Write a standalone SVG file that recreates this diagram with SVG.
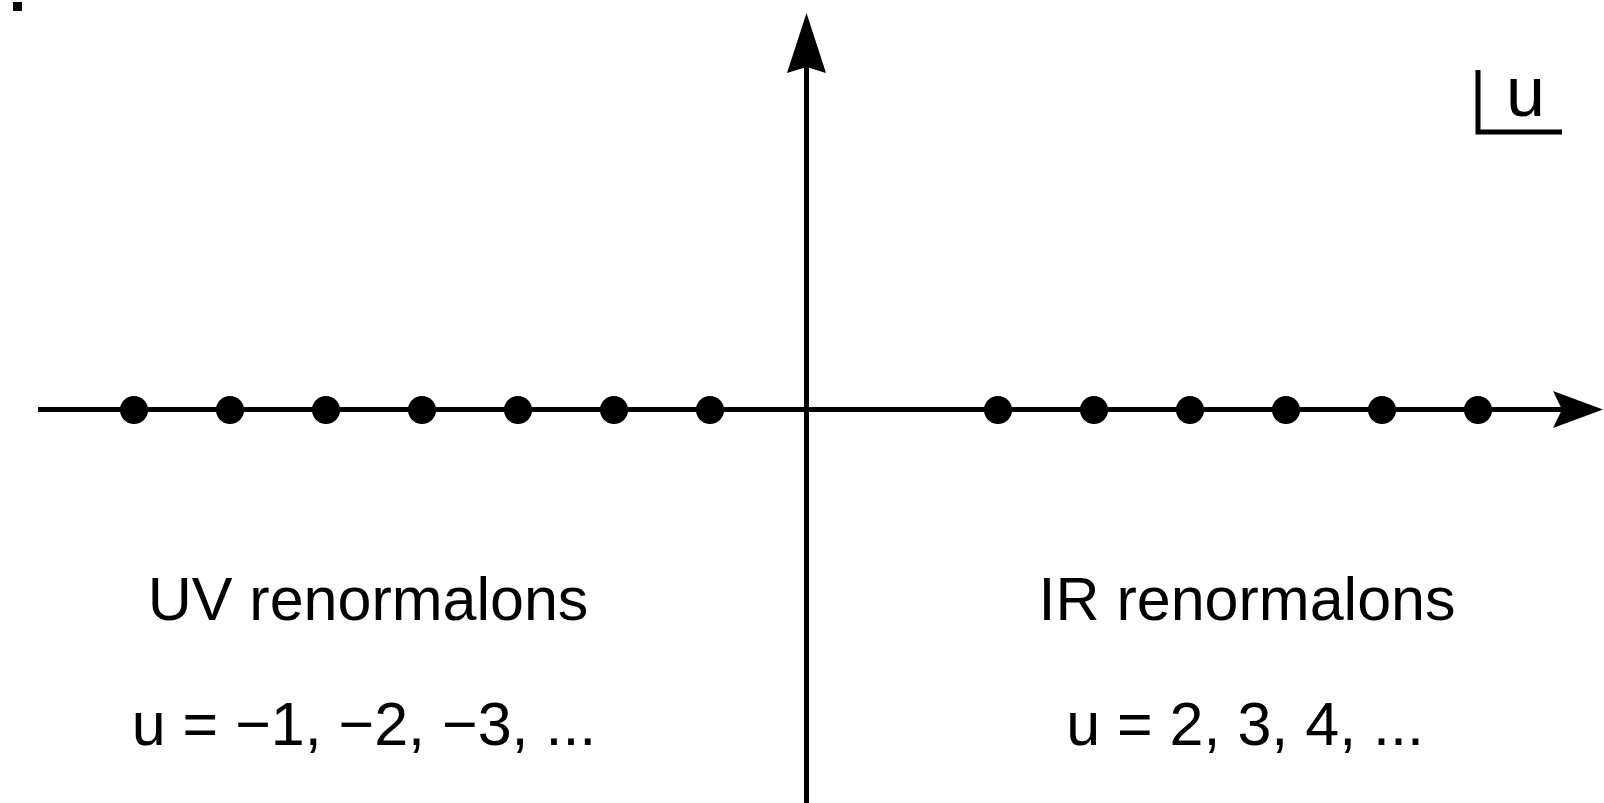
<svg xmlns="http://www.w3.org/2000/svg" width="1604" height="803" viewBox="0 0 1604 803">
<style>
.ax{stroke:#000;stroke-width:5;fill:none}
.dot{fill:#000}
.head{fill:#000}
.lbl{font-family:"Liberation Sans",Arial,sans-serif;font-size:61px;fill:#000;text-anchor:middle}
</style>
<rect x="0" y="0" width="1604" height="803" fill="#fff"/>
<rect x="13" y="2" width="9" height="9" fill="#000"/>
<g id="connectors">
<line class="ax" x1="38" y1="409.5" x2="1565" y2="409.5"/>
<path class="head" d="M1603,409.5 L1553,391 L1562,409.5 L1553,428 Z"/>
<line class="ax" x1="806.5" y1="803" x2="806.5" y2="62"/>
<path class="head" d="M806.5,13 L787,73 L806.5,67 L826,73 Z"/>
</g>
<g id="poles-uv">
<circle class="dot" cx="134" cy="410" r="14"/>
<circle class="dot" cx="230" cy="410" r="14"/>
<circle class="dot" cx="326" cy="410" r="14"/>
<circle class="dot" cx="422" cy="410" r="14"/>
<circle class="dot" cx="518" cy="410" r="14"/>
<circle class="dot" cx="614" cy="410" r="14"/>
<circle class="dot" cx="710" cy="410" r="14"/>
</g>
<g id="poles-ir">
<circle class="dot" cx="998" cy="410" r="14"/>
<circle class="dot" cx="1094" cy="410" r="14"/>
<circle class="dot" cx="1190" cy="410" r="14"/>
<circle class="dot" cx="1286" cy="410" r="14"/>
<circle class="dot" cx="1382" cy="410" r="14"/>
<circle class="dot" cx="1478" cy="410" r="14"/>
</g>
<g id="plane-label">
<path class="ax" d="M1478,70 L1478,132 L1562,132"/>
<text x="1506" y="116" font-family="Liberation Sans,Arial,sans-serif" font-size="70" fill="#000">u</text>
</g>
<g id="uv-label">
<text class="lbl" x="368" y="620">UV renormalons</text>
<text class="lbl" x="364" y="745">u = −1, −2, −3, ...</text>
</g>
<g id="ir-label">
<text class="lbl" x="1247" y="620">IR renormalons</text>
<text class="lbl" x="1245" y="745">u = 2, 3, 4, ...</text>
</g>
</svg>
